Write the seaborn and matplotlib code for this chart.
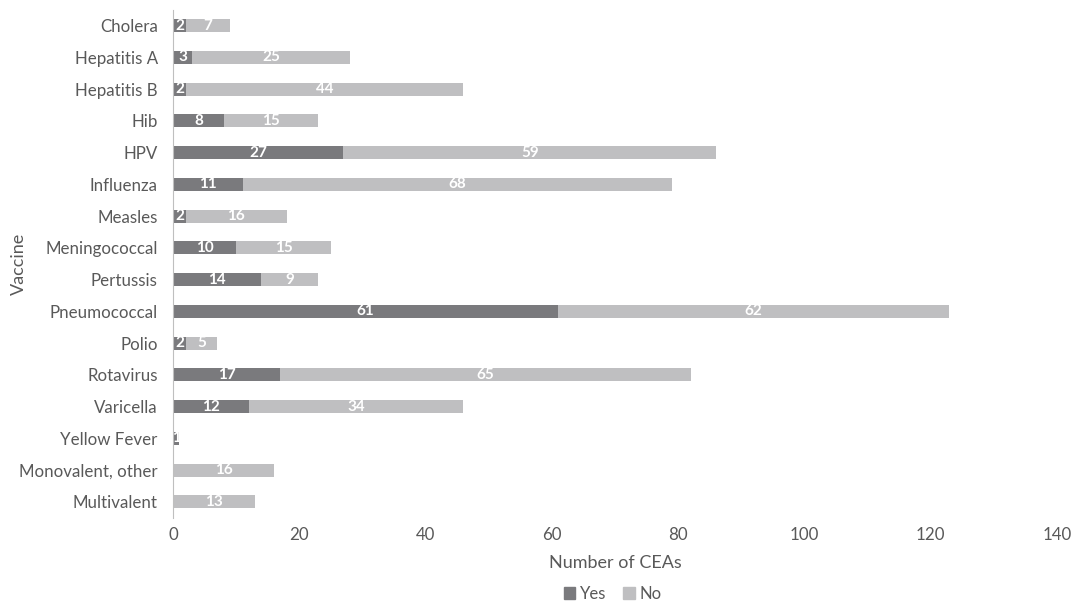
import matplotlib
matplotlib.use("Agg")
import matplotlib.pyplot as plt
import seaborn as sns
import pandas as pd
import numpy as np
from matplotlib.patches import Patch

vaccines = ["Cholera", "Hepatitis A", "Hepatitis B", "Hib", "HPV", "Influenza",
            "Measles", "Meningococcal", "Pertussis", "Pneumococcal", "Polio",
            "Rotavirus", "Varicella", "Yellow Fever", "Monovalent, other", "Multivalent"]
yes_vals = [2, 3, 2, 8, 27, 11, 2, 10, 14, 61, 2, 17, 12, 1, 0, 0]
no_vals = [7, 25, 44, 15, 59, 68, 16, 15, 9, 62, 5, 65, 34, 0, 16, 13]
x_ticks = [0, 20, 40, 60, 80, 100, 120, 140]

df = pd.DataFrame({"Vaccine": vaccines, "Yes": yes_vals, "No": no_vals})
df["Total"] = df["Yes"] + df["No"]

sns.set_style("white")
plt.rcParams["font.family"] = ["Lato", "DejaVu Sans"]
TXT = "#595959"
C_YES = "#7a7a7d"
C_NO = "#bfbfc1"

fig = plt.figure(figsize=(10.75, 6.02), dpi=100)
ax = fig.add_axes([0.161, 0.140, 0.822, 0.844])

sns.barplot(data=df, y="Vaccine", x="Total", orient="h", color=C_NO, width=0.41,
            saturation=1, linewidth=0, ax=ax)
sns.barplot(data=df, y="Vaccine", x="Yes", orient="h", color=C_YES, width=0.41,
            saturation=1, linewidth=0, ax=ax)

for i, (y, n) in enumerate(zip(yes_vals, no_vals)):
    if y > 0:
        ax.text(y / 2, i, str(y), ha="center", va="center", color="white",
                fontsize=11, fontweight="bold")
    if n > 0:
        ax.text(y + n / 2, i, str(n), ha="center", va="center", color="white",
                fontsize=11, fontweight="bold")

ax.set_xlim(0, 140)
ax.set_xticks(x_ticks)
ax.set_ylim(len(vaccines) - 0.5, -0.5)
ax.set_xlabel("Number of CEAs", fontsize=13, color=TXT, labelpad=8)
ax.set_ylabel("Vaccine", fontsize=13, color=TXT)
ax.yaxis.set_label_coords(-0.165, 0.5)
ax.tick_params(axis="both", colors=TXT, labelsize=12.2, length=0)
ax.tick_params(axis="y", pad=11)
ax.tick_params(axis="x", pad=7)
for s in ["top", "right", "bottom"]:
    ax.spines[s].set_visible(False)
ax.spines["left"].set_color("#bfbfbf")
ax.grid(False)

handles = [Patch(color=C_YES, label="Yes"), Patch(color=C_NO, label="No")]
fig.legend(handles=handles, loc="lower center", bbox_to_anchor=(0.57, -0.025), ncol=2,
           frameon=False, fontsize=12, labelcolor=TXT, handlelength=0.7,
           handleheight=0.7, handletextpad=0.3, columnspacing=1.0)

fig.savefig("out.png", dpi=100)
